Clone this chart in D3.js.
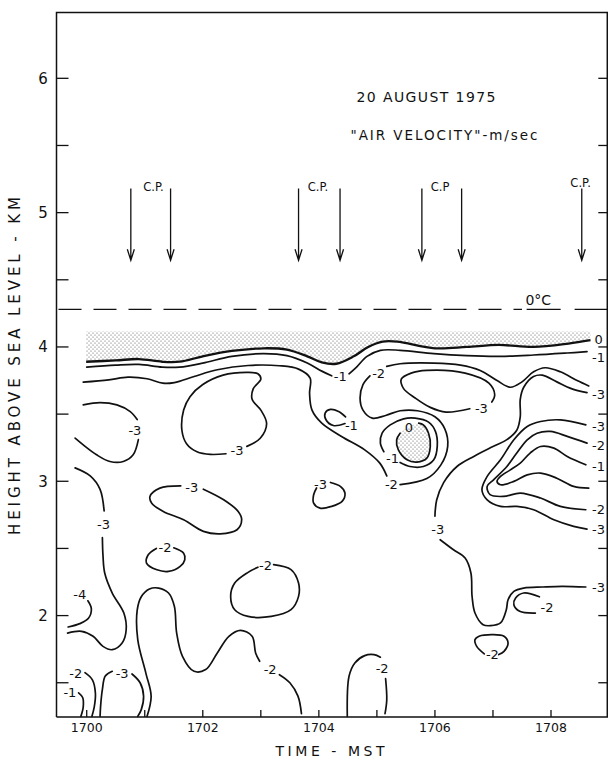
<!DOCTYPE html>
<html>
<head>
<meta charset="utf-8">
<script src="https://cdn.jsdelivr.net/npm/d3@7"></script>
<style>
  body { margin: 0; background: #fff; }
  svg { display: block; }
  text { font-family: "DejaVu Sans", sans-serif; fill: #111; }
</style>
</head>
<body>
<svg id="chart" width="608" height="763"></svg>
<script>
// ---- axis values ----
const yTickValues = [2, 3, 4, 5, 6];
const yMinorTicks = [1.5, 2, 2.5, 3, 3.5, 4, 4.5, 5, 5.5, 6];
const xTickValues = [1700, 1702, 1704, 1706, 1708];
const xTickLabels = ["1700", "1702", "1704", "1706", "1708"];
const xMinorTicks = [1700, 1701, 1702, 1703, 1704, 1705, 1706, 1707, 1708];

// ---- annotations ----
const cpArrowTimes = [1700.76, 1701.445, 1703.65, 1704.365, 1705.775, 1706.46, 1708.53];
const cpLabelTimes = [1701.15, 1703.985, 1706.09, 1708.51];
const cpLabelText = ["C.P.", "C.P.", "C.P", "C.P."];
const freezingLevel = 4.28;
const stippleTop = 4.115;

// ---- contours, [time (min past 1700 MST), height km] ----
const zeroTop = [[1699.99,3.89],[1700.5,3.90],[1700.9,3.91],[1701.3,3.89],[1701.6,3.89],[1702.0,3.93],[1702.5,3.97],[1703.05,3.99],[1703.45,3.98],[1703.8,3.93],[1704.05,3.885],[1704.3,3.875],[1704.6,3.93],[1704.85,4.0],[1705.1,4.04],[1705.35,4.04],[1706.0,3.99],[1706.55,4.0],[1707.1,4.015],[1707.7,4.0],[1708.3,4.025],[1708.68,4.05]];
const m1TopLeft = [[1700.0,3.85],[1700.5,3.865],[1700.9,3.87],[1701.3,3.85],[1701.6,3.85],[1702.0,3.88],[1702.5,3.93],[1703.05,3.95],[1703.45,3.935],[1703.8,3.88],[1704.05,3.82],[1704.22,3.785]];
const m1TopRight = [[1704.52,3.80],[1704.65,3.85],[1704.83,3.93],[1705.06,3.975],[1705.4,3.975],[1705.98,3.95],[1706.55,3.935],[1707.13,3.93],[1707.7,3.94],[1708.28,3.955],[1708.62,3.965]];
const m2Left = [[1699.94,3.738],[1700.38,3.755],[1700.71,3.775],[1701.04,3.763],[1701.31,3.73],[1701.51,3.735],[1701.85,3.78],[1702.25,3.83],[1702.78,3.862],[1703.32,3.86],[1703.65,3.835],[1703.85,3.768],[1703.84,3.656],[1703.88,3.532],[1704.05,3.433],[1704.39,3.334],[1704.79,3.234],[1705.05,3.135],[1705.17,3.04]];
const m2Ring = [[1705.4,2.975],[1705.86,3.02],[1706.1,3.12],[1706.22,3.26],[1706.17,3.39],[1706.0,3.48],[1705.7,3.525],[1705.4,3.525],[1705.15,3.49],[1704.92,3.47],[1704.76,3.53],[1704.71,3.62],[1704.76,3.72],[1704.88,3.785]];
const m2Upper = [[1705.17,3.855],[1705.4,3.875],[1705.98,3.88],[1706.44,3.865],[1706.78,3.825],[1707.07,3.75],[1707.3,3.70],[1707.5,3.74],[1707.7,3.815],[1707.9,3.845],[1708.16,3.815],[1708.45,3.75],[1708.65,3.71]];
const m3Loop = [[1706.6,3.54],[1706.19,3.515],[1705.92,3.55],[1705.66,3.62],[1705.46,3.69],[1705.42,3.76],[1705.59,3.805],[1705.86,3.825],[1706.52,3.805],[1706.93,3.73],[1707.03,3.644],[1706.98,3.59]];
const m1Small = [[1704.45,3.43],[1704.25,3.415],[1704.12,3.46],[1704.11,3.51],[1704.2,3.535],[1704.34,3.52],[1704.46,3.48]];
const zeroBlob = [[1705.72,3.433],[1705.80,3.42],[1705.89,3.358],[1705.92,3.259],[1705.86,3.172],[1705.69,3.143],[1705.52,3.16],[1705.37,3.234],[1705.34,3.309],[1705.40,3.358]];
const m1Ring = [[1705.4,3.14],[1705.57,3.11],[1705.8,3.11],[1705.98,3.16],[1706.04,3.26],[1706.01,3.37],[1705.89,3.44],[1705.66,3.47],[1705.46,3.465],[1705.23,3.42],[1705.09,3.358],[1705.06,3.284],[1705.12,3.22]];
const m3SmallMid = [[1704.2,2.991],[1704.37,2.962],[1704.45,2.912],[1704.4,2.85],[1704.22,2.813],[1704.02,2.8],[1703.91,2.837],[1703.91,2.9],[1703.96,2.95]];
const m3LongUp = [[1706.0,2.74],[1706.03,2.86],[1706.15,2.99],[1706.38,3.11],[1706.67,3.185],[1707.01,3.26],[1707.24,3.31],[1707.41,3.38],[1707.47,3.48],[1707.47,3.61],[1707.53,3.70],[1707.7,3.78],[1707.85,3.79],[1708.1,3.74],[1708.35,3.69],[1708.62,3.66]];
const m3LongDown = [[1706.09,2.565],[1706.32,2.49],[1706.52,2.428],[1706.62,2.317],[1706.64,2.143],[1706.69,2.019],[1706.83,1.932],[1706.96,1.925],[1707.13,1.945],[1707.23,2.044],[1707.26,2.118],[1707.36,2.18],[1707.53,2.205],[1707.86,2.213],[1708.19,2.218],[1708.6,2.213]];
const hairOuter = [[1708.6,3.42],[1708.16,3.457],[1707.82,3.445],[1707.59,3.408],[1707.36,3.309],[1707.13,3.16],[1706.9,3.036],[1706.81,2.937],[1706.9,2.862],[1707.13,2.813],[1707.41,2.813],[1707.70,2.788],[1708.05,2.713],[1708.39,2.664],[1708.62,2.644]];
const hairMiddle = [[1708.62,3.284],[1708.28,3.334],[1707.99,3.371],[1707.76,3.358],[1707.59,3.309],[1707.41,3.21],[1707.24,3.11],[1707.01,3.011],[1706.9,2.962],[1706.95,2.9],[1707.18,2.887],[1707.47,2.912],[1707.82,2.875],[1708.16,2.813],[1708.6,2.788]];
const hairInner = [[1708.6,3.123],[1708.28,3.185],[1708.05,3.247],[1707.82,3.259],[1707.64,3.21],[1707.47,3.135],[1707.3,3.085],[1707.13,3.036],[1707.07,2.999],[1707.13,2.974],[1707.36,2.999],[1707.59,3.048],[1707.82,3.061],[1708.1,3.023],[1708.39,2.962],[1708.65,2.949]];
const m2RightSmall = [[1707.8,2.14],[1707.53,2.168],[1707.39,2.131],[1707.36,2.081],[1707.46,2.032],[1707.73,2.019]];
const m2RightLow = [[1706.85,1.715],[1706.72,1.771],[1706.69,1.821],[1706.76,1.846],[1706.99,1.858],[1707.19,1.846],[1707.26,1.796],[1707.19,1.734],[1707.1,1.71]];
const m2Bottom5a = [[1704.49,1.25],[1704.52,1.548],[1704.62,1.647],[1704.79,1.702],[1704.95,1.709],[1705.06,1.69]];
const m2Bottom5b = [[1705.15,1.53],[1705.17,1.374],[1705.14,1.27]];
const m3LeftArcTop = [[1699.94,3.569],[1700.23,3.586],[1700.52,3.569],[1700.75,3.519],[1700.87,3.46]];
const m3LeftArcBot = [[1700.89,3.31],[1700.80,3.197],[1700.63,3.147],[1700.40,3.147],[1700.17,3.197],[1699.94,3.271],[1699.80,3.321]];
const m3BigLoop = [[1702.76,3.26],[1702.99,3.32],[1703.10,3.43],[1703.0,3.53],[1702.85,3.61],[1702.87,3.69],[1703.0,3.76],[1702.95,3.80],[1702.75,3.81],[1702.35,3.79],[1702.0,3.72],[1701.78,3.63],[1701.67,3.53],[1701.64,3.38],[1701.72,3.28],[1701.9,3.22],[1702.13,3.20],[1702.40,3.205]];
const m3LeftTop = [[1699.8,3.10],[1700.06,3.04],[1700.23,2.94],[1700.30,2.78]];
const m3LeftBot = [[1700.27,2.58],[1700.28,2.45],[1700.31,2.317],[1700.44,2.168],[1700.64,2.019],[1700.68,1.895],[1700.61,1.796],[1700.44,1.746],[1700.28,1.771],[1700.11,1.846],[1699.91,1.883],[1699.67,1.87]];
const m4Left = [[1699.68,1.915],[1699.88,1.94],[1700.03,1.98],[1700.08,2.05],[1700.02,2.11]];
const m3SmallLeft = [[1702.01,2.941],[1702.36,2.862],[1702.61,2.775],[1702.67,2.713],[1702.59,2.639],[1702.3,2.609],[1702.01,2.627],[1701.67,2.713],[1701.32,2.775],[1701.12,2.837],[1701.09,2.887],[1701.26,2.949],[1701.62,2.966]];
const m2SmallLeft = [[1701.5,2.505],[1701.67,2.465],[1701.69,2.416],[1701.61,2.366],[1701.41,2.329],[1701.21,2.341],[1701.03,2.391],[1701.06,2.453],[1701.2,2.50]];
const m2MidLoop = [[1703.22,2.379],[1703.52,2.342],[1703.65,2.242],[1703.65,2.143],[1703.52,2.044],[1703.18,1.994],[1702.78,1.994],[1702.55,2.044],[1702.48,2.143],[1702.55,2.242],[1702.78,2.322],[1702.95,2.36]];
const m2Snake = [[1701.04,1.25],[1701.11,1.40],[1701.02,1.57],[1700.88,1.82],[1700.87,2.04],[1700.94,2.14],[1701.08,2.198],[1701.24,2.205],[1701.41,2.168],[1701.51,2.069],[1701.55,1.87],[1701.65,1.697],[1701.85,1.585],[1702.05,1.598],[1702.25,1.722],[1702.45,1.846],[1702.65,1.89],[1702.85,1.846],[1702.91,1.722],[1702.98,1.66]];
const m2SnakeEnd = [[1703.32,1.56],[1703.5,1.50],[1703.64,1.40],[1703.7,1.27]];
const m1BotLeft = [[1699.86,1.425],[1699.93,1.39],[1699.94,1.32],[1699.9,1.25]];
const m2BotLeft = [[1699.97,1.575],[1700.1,1.52],[1700.15,1.42],[1700.13,1.32],[1700.09,1.25]];
const m3BotLeftA = [[1700.44,1.585],[1700.32,1.55],[1700.27,1.45],[1700.24,1.33],[1700.23,1.25]];
const m3BotLeftB = [[1700.78,1.565],[1700.92,1.5],[1700.98,1.4],[1700.94,1.3],[1700.88,1.25]];

const contourLines = [m1TopLeft, m1TopRight, m2Left, m2Ring, m2Upper, m3Loop, m1Small,
  zeroBlob, m1Ring, m3SmallMid, m3LongUp, m3LongDown, hairOuter, hairMiddle, hairInner,
  m2RightSmall, m2RightLow, m2Bottom5a, m2Bottom5b, m3LeftArcTop, m3LeftArcBot, m3BigLoop,
  m3LeftTop, m3LeftBot, m4Left, m3SmallLeft, m2SmallLeft, m2MidLoop, m2Snake, m2SnakeEnd,
  m1BotLeft, m2BotLeft, m3BotLeftA, m3BotLeftB];

// contour labels: text, time, height
const contourLabels = [
  ["0",1708.82,4.06],["-1",1708.82,3.925],["-3",1708.82,3.645],["-3",1708.82,3.41],["-2",1708.82,3.27],
  ["-1",1708.82,3.11],["-2",1708.82,2.79],["-3",1708.82,2.64],["-3",1708.82,2.21],
  ["-1",1704.37,3.78],["-2",1705.03,3.80],["-3",1706.8,3.545],["-1",1704.56,3.42],["0",1705.55,3.40],
  ["-1",1705.27,3.17],["-2",1705.25,2.98],["-3",1704.03,2.98],["-3",1706.05,2.64],
  ["-3",1700.83,3.383],["-3",1702.59,3.229],["-3",1700.29,2.68],["-3",1701.81,2.956],["-2",1701.35,2.51],
  ["-2",1703.08,2.371],["-4",1699.88,2.16],["-2",1703.16,1.598],["-2",1705.09,1.61],["-2",1707.93,2.064],
  ["-2",1706.99,1.709],["-2",1699.81,1.57],["-1",1699.71,1.43],["-3",1700.61,1.573]
];

// ---- drawing ----
const svg = d3.select("#chart");
const x = d3.scaleLinear().domain([1699.5, 1708.97]).range([57.7, 607.3]);
const y = d3.scaleLinear().domain([1.245, 6.49]).range([717, 12.5]);
const frameLeft = 56.5, frameRight = 607.3, frameTop = y(6.49), frameBottom = y(1.245);

const defs = svg.append("defs");
const pat = defs.append("pattern").attr("id", "stipple").attr("patternUnits", "userSpaceOnUse")
  .attr("width", 4).attr("height", 4);
pat.append("circle").attr("cx", 1).attr("cy", 1).attr("r", 0.6).attr("fill", "#555");
pat.append("circle").attr("cx", 3).attr("cy", 3).attr("r", 0.6).attr("fill", "#555");

const curve = d3.curveCatmullRom.alpha(0.5);
const line = d3.line().x(d => x(d[0])).y(d => y(d[1])).curve(curve);

// stippled layer above the 0 contour
svg.append("path")
  .attr("d", d3.area().x(d => x(d[0])).y0(y(stippleTop)).y1(d => y(d[1])).curve(curve)(zeroTop))
  .attr("fill", "url(#stipple)");
svg.append("path")
  .attr("d", d3.line().x(d => x(d[0])).y(d => y(d[1])).curve(d3.curveCatmullRomClosed.alpha(0.5))(zeroBlob))
  .attr("fill", "url(#stipple)");

// frame
svg.append("path")
  .attr("d", `M${frameLeft},${frameBottom}V${frameTop}H${frameRight}V${frameBottom}H${frameLeft}`)
  .attr("fill", "none").attr("stroke", "#111").attr("stroke-width", 1.5);

// ticks
svg.append("g").selectAll("line").data(yMinorTicks).join("line")
  .attr("x1", frameLeft).attr("x2", frameLeft + 12).attr("y1", d => y(d)).attr("y2", d => y(d))
  .attr("stroke", "#111").attr("stroke-width", 1.3);
svg.append("g").selectAll("line").data(yMinorTicks).join("line")
  .attr("x1", frameRight - 9).attr("x2", frameRight).attr("y1", d => y(d)).attr("y2", d => y(d))
  .attr("stroke", "#111").attr("stroke-width", 1.3);
svg.append("g").selectAll("line").data(xMinorTicks).join("line")
  .attr("x1", d => x(d)).attr("x2", d => x(d)).attr("y1", frameBottom).attr("y2", frameBottom - 7)
  .attr("stroke", "#111").attr("stroke-width", 1.3);

svg.append("g").selectAll("text").data(yTickValues).join("text")
  .attr("x", 43).attr("y", d => y(d)).attr("dy", "0.36em")
  .attr("text-anchor", "middle").attr("font-size", 15).text(d => d);
svg.append("g").selectAll("text").data(xTickValues).join("text")
  .attr("x", d => x(d)).attr("y", frameBottom + 15)
  .attr("text-anchor", "middle").attr("font-size", 12.5)
  .text((d, i) => xTickLabels[i]);

// axis titles
svg.append("text").attr("transform", `translate(20,${366}) rotate(-90)`)
  .attr("text-anchor", "middle").attr("font-size", 15)
  .attr("textLength", 338).attr("lengthAdjust", "spacing")
  .text("HEIGHT ABOVE SEA LEVEL - KM");
svg.append("text").attr("x", 330).attr("y", 756)
  .attr("text-anchor", "middle").attr("font-size", 14)
  .attr("textLength", 109).attr("lengthAdjust", "spacing")
  .text("TIME - MST");

// title
svg.append("text").attr("x", 426).attr("y", y(5.863)).attr("dy", "0.36em")
  .attr("text-anchor", "middle").attr("font-size", 14)
  .attr("textLength", 139).attr("lengthAdjust", "spacing").text("20 AUGUST 1975");
svg.append("text").attr("x", 444).attr("y", y(5.578)).attr("dy", "0.36em")
  .attr("text-anchor", "middle").attr("font-size", 13.5)
  .attr("textLength", 187).attr("lengthAdjust", "spacing").text("\"AIR VELOCITY\"-m/sec");

// C.P. arrows
const arrows = svg.append("g").attr("stroke", "#111").attr("stroke-width", 1.3).attr("fill", "none");
arrows.selectAll("path").data(cpArrowTimes).join("path")
  .attr("d", d => {
    const ax = x(d), y0 = y(5.18), y1 = y(4.645);
    return `M${ax},${y0}V${y1}M${ax - 3.5},${y1 - 11}L${ax},${y1}L${ax + 3.5},${y1 - 11}`;
  });
svg.append("g").selectAll("text").data(cpLabelTimes).join("text")
  .attr("x", d => x(d)).attr("y", (d, i) => y(i === 3 ? 5.224 : 5.194)).attr("dy", "0.36em")
  .attr("text-anchor", "middle").attr("font-size", 11.5)
  .text((d, i) => cpLabelText[i]);

// 0 deg C level
svg.append("line").attr("x1", frameLeft + 2).attr("x2", x(1707.5)).attr("y1", y(freezingLevel)).attr("y2", y(freezingLevel))
  .attr("stroke", "#111").attr("stroke-width", 1.4).attr("stroke-dasharray", "23,12");
svg.append("line").attr("x1", x(1707.58)).attr("x2", frameRight).attr("y1", y(freezingLevel)).attr("y2", y(freezingLevel))
  .attr("stroke", "#111").attr("stroke-width", 1.4).attr("stroke-dasharray", "34,14,36");
svg.append("text").attr("x", x(1707.78)).attr("y", y(freezingLevel) - 4)
  .attr("text-anchor", "middle").attr("font-size", 14).text("0°C");

// contours
svg.append("g").attr("fill", "none").attr("stroke", "#111").attr("stroke-width", 1.7)
  .attr("stroke-linecap", "round")
  .selectAll("path").data(contourLines).join("path").attr("d", line);
svg.append("path").attr("d", line(zeroTop)).attr("fill", "none")
  .attr("stroke", "#111").attr("stroke-width", 2.3);

svg.append("g").selectAll("text").data(contourLabels).join("text")
  .attr("x", d => x(d[1])).attr("y", d => y(d[2])).attr("dy", "0.36em")
  .attr("text-anchor", "middle").attr("font-size", 13)
  .text(d => d[0]);
</script>
</body>
</html>
